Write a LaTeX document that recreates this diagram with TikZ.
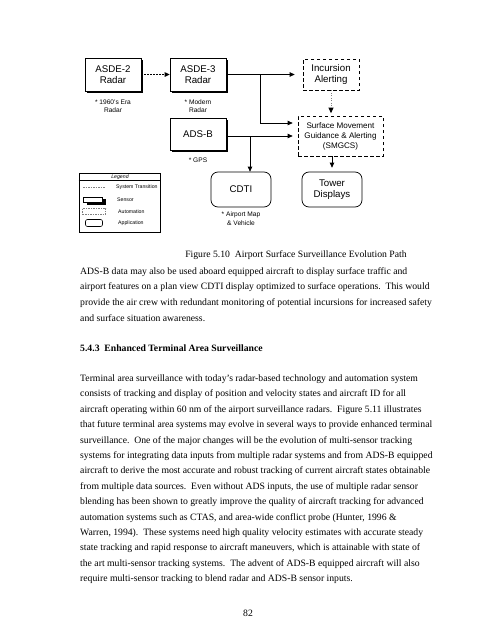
\documentclass[tikz,border=0pt]{standalone}
\usepackage{fontspec}
\setmainfont{Liberation Serif}
\setsansfont{Liberation Sans}
\usetikzlibrary{arrows.meta,shadows}
\begin{document}
\begin{tikzpicture}[x=1pt,y=-1pt,
  boxfont/.style={font=\sffamily\fontsize{9.7}{11.5}\selectfont},
  sensorbox/.style={boxfont, draw, fill=white, line width=0.7pt, minimum width=56pt, minimum height=33pt, align=center, inner sep=0pt,
     drop shadow={shadow xshift=1.6pt, shadow yshift=-1.6pt, fill=black, opacity=1}},
  autobox/.style={boxfont, draw, line width=0.7pt, dash pattern=on 3.5pt off 2.5pt, align=center, inner sep=0pt},
  appbox/.style={boxfont, draw, line width=0.7pt, rounded corners=7pt, minimum width=60pt, minimum height=35pt, align=center, inner sep=0pt},
  note/.style={font=\sffamily\fontsize{6.6}{8.4}\selectfont, align=center, inner sep=0pt},
  legtext/.style={font=\sffamily\fontsize{5.2}{6}\selectfont, anchor=west, inner sep=0pt},
  conn/.style={line width=0.7pt, -{Triangle[length=5pt,width=4.5pt]}},
  body/.style={font=\fontsize{9.7}{11}\selectfont, anchor=base west, inner sep=0pt},
]
\fill[white] (0,0) rectangle (495,640);
\useasboundingbox (0,0) rectangle (495,640);

% boxes
\node[sensorbox] (asde2) at (113,74.5) {ASDE-2\\Radar};
\node[sensorbox] (asde3) at (198,74.5) {ASDE-3\\Radar};
\node[sensorbox, minimum height=32pt] (adsb) at (198,134) {ADS-B};
\node[autobox, minimum width=56pt, minimum height=31pt] (incursion) at (331,74.5) {Incursion\\Alerting};
\node[autobox, minimum width=85pt, minimum height=40pt, font=\sffamily\fontsize{8.1}{10}\selectfont] (smgcs) at (340.5,136) {Surface Movement\\Guidance \& Alerting\\(SMGCS)};
\node[appbox] (tower) at (332,189.5) {Tower\\Displays};
\node[appbox] (cdti) at (241,189.5) {CDTI};

% notes
\node[note] (n1) at (113,106) {* 1960's Era\\Radar};
\node[note] (n2) at (198,106) {* Modern\\Radar};
\node[note] (n3) at (198,160) {* GPS};
\node[note] (n4) at (241,218.5) {* Airport Map\\\& Vehicle};

% connectors
\draw[line width=1.1pt, dash pattern=on 1.5pt off 1.5pt, -{Triangle[length=5pt,width=4.5pt]}, shorten <=3pt] (asde2.east) -- (asde3.west);
\draw[conn, shorten >=8pt] (asde3.east) -- (incursion.west);
\coordinate (j1) at (260,74.5);
\coordinate (j2) at (250,136);
\draw[conn, shorten >=5pt] (j1) |- ([yshift=13pt]smgcs.west);
\draw[conn, shorten >=5pt] (adsb.east |- smgcs.west) -- (smgcs.west);
\draw[conn] (j2) -- (j2 |- cdti.north);
\draw[line width=0.9pt, gray, dash pattern=on 1pt off 1.5pt, -{Triangle[length=5.5pt,width=5pt,color=black,fill=black]}, shorten >=2.5pt] (incursion.south) -- (incursion.south |- smgcs.north);
\draw[conn, shorten >=4pt] (tower.north |- smgcs.south) -- (tower.north);

% legend
\node[draw, line width=0.6pt, minimum width=81pt, minimum height=59pt, inner sep=0pt] (legend) at (119.5,202.5) {};
\draw[line width=0.5pt] ([yshift=-8pt]legend.north west) -- ([yshift=-8pt]legend.north east);
\node[font=\sffamily\itshape\fontsize{5.2}{6}\selectfont, inner sep=0pt] (lt) at (120,177) {Legend};
\coordinate (s1) at (83,187);
\coordinate (s2) at (105,187);
\draw[gray, line width=0.4pt, dash pattern=on 1.5pt off 1pt] (s1) -- (s2);
\node[draw, fill=white, line width=0.5pt, minimum width=19pt, minimum height=5.5pt, inner sep=0pt,
   drop shadow={shadow xshift=3.5pt, shadow yshift=-2.5pt, fill=black, opacity=1}] (lsens) at (92.5,199.5) {};
\node[draw, gray, line width=0.4pt, dash pattern=on 1.5pt off 1pt, minimum width=23pt, minimum height=6pt, inner sep=0pt] (lauto) at (94,211) {};
\node[draw, line width=0.6pt, rounded corners=2pt, minimum width=17pt, minimum height=7pt, inner sep=0pt] (lapp) at (94,223) {};
\node[legtext] (t1) at (116,187) {System Transition};
\node[legtext] (t2) at (117,200) {Sensor};
\node[legtext] (t3) at (118,212) {Automation};
\node[legtext] (t4) at (118,223) {Application};

% caption and body text
\node[font=\fontsize{9.7}{11}\selectfont, anchor=base, inner sep=0pt] (cap) at (296,257) {Figure 5.10\enspace Airport Surface Surveillance Evolution Path};

\node[body] (p1) at (80,274) {ADS-B data may also be used aboard equipped aircraft to display surface traffic and};
\node[body] (p2) at (80,289.7) {airport features on a plan view CDTI display optimized to surface operations.\ \ This would};
\node[body] (p3) at (80,305.4) {provide the air crew with redundant monitoring of potential incursions for increased safety};
\node[body] (p4) at (80,321.1) {and surface situation awareness.};

\node[body, font=\bfseries\fontsize{9.7}{11}\selectfont] (h) at (80,351) {5.4.3\enspace Enhanced Terminal Area Surveillance};

\node[body] (q1) at (80,381.5) {Terminal area surveillance with today's radar-based technology and automation system};
\node[body] (q2) at (80,396.9) {consists of tracking and display of position and velocity states and aircraft ID for all};
\node[body] (q3) at (80,412.3) {aircraft operating within 60 nm of the airport surveillance radars.\ \ Figure 5.11 illustrates};
\node[body] (q4) at (80,427.7) {that future terminal area systems may evolve in several ways to provide enhanced terminal};
\node[body] (q5) at (80,443.1) {surveillance.\ \ One of the major changes will be the evolution of multi-sensor tracking};
\node[body] (q6) at (80,458.5) {systems for integrating data inputs from multiple radar systems and from ADS-B equipped};
\node[body] (q7) at (80,473.9) {aircraft to derive the most accurate and robust tracking of current aircraft states obtainable};
\node[body] (q8) at (80,489.3) {from multiple data sources.\ \ Even without ADS inputs, the use of multiple radar sensor};
\node[body] (q9) at (80,504.7) {blending has been shown to greatly improve the quality of aircraft tracking for advanced};
\node[body] (q10) at (80,520.1) {automation systems such as CTAS, and area-wide conflict probe (Hunter, 1996 \&};
\node[body] (q11) at (80,535.5) {Warren, 1994).\ \ These systems need high quality velocity estimates with accurate steady};
\node[body] (q12) at (80,550.9) {state tracking and rapid response to aircraft maneuvers, which is attainable with state of};
\node[body] (q13) at (80,566.3) {the art multi-sensor tracking systems.\ \ The advent of ADS-B equipped aircraft will also};
\node[body] (q14) at (80,581.7) {require multi-sensor tracking to blend radar and ADS-B sensor inputs.};

\node[font=\fontsize{9.7}{11}\selectfont, anchor=base, inner sep=0pt] (pg) at (248,616) {82};
\end{tikzpicture}
\end{document}
